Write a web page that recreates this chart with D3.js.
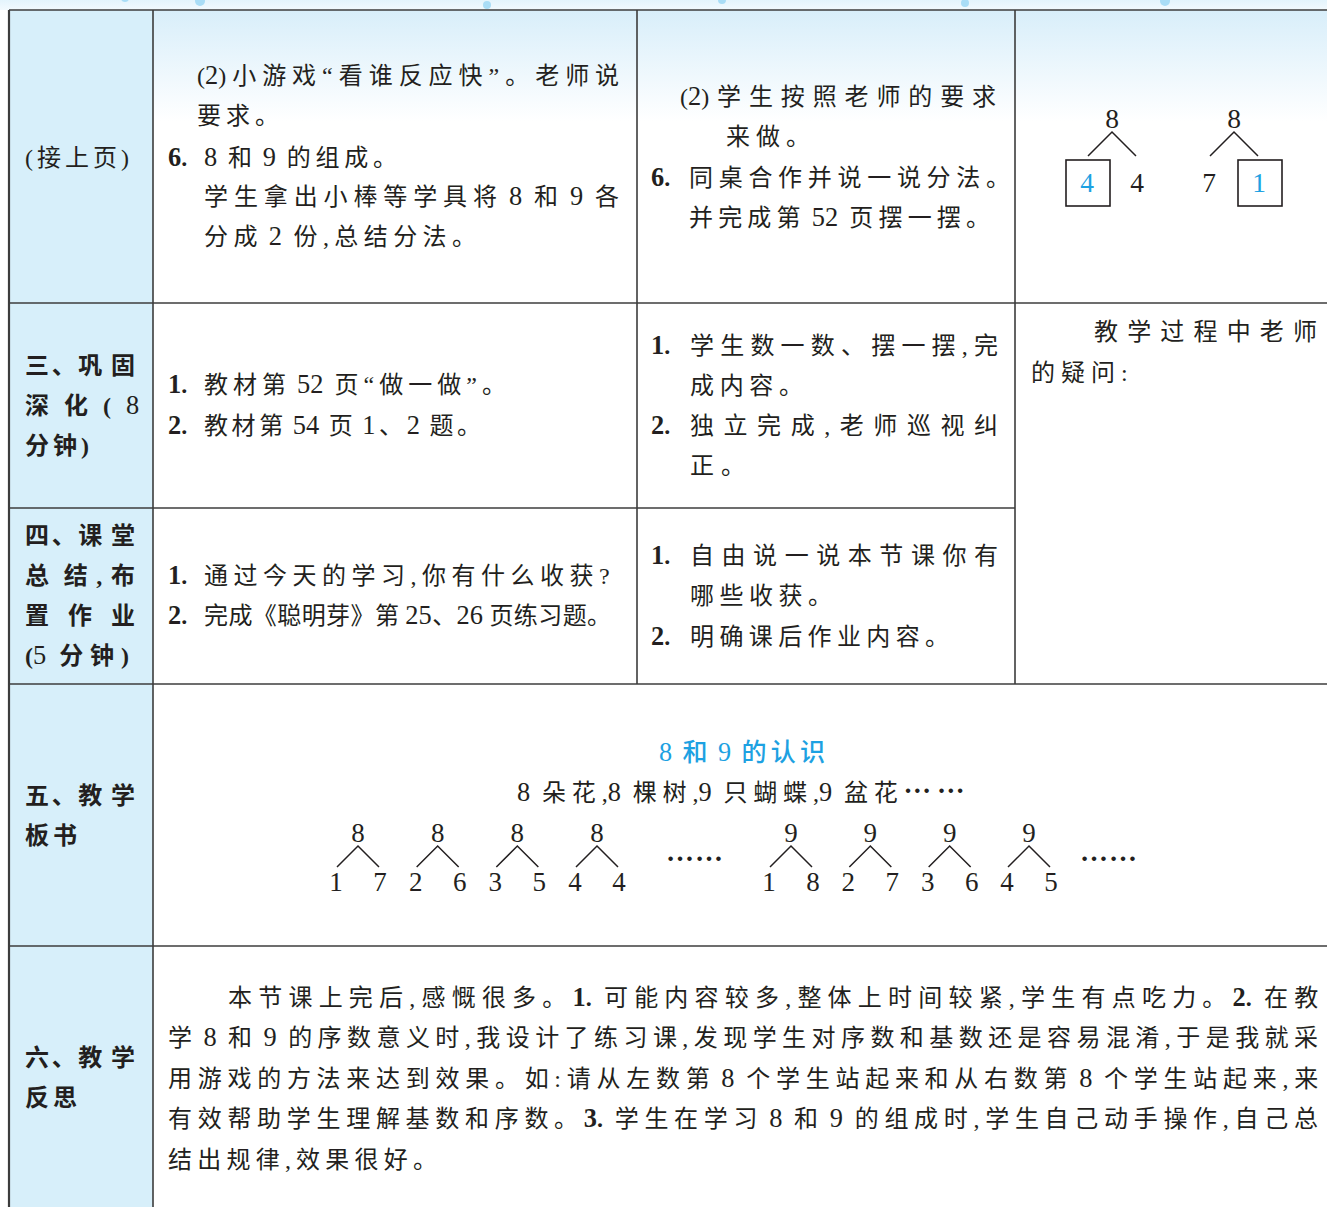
<!DOCTYPE html>
<html><head><meta charset="utf-8">
<script src="https://cdn.jsdelivr.net/npm/d3@7"></script>
<style>body{margin:0;background:#fff}svg{display:block}</style>
</head><body><svg id="c" width="1327" height="1207"></svg>
<script>
// ---------- data ----------
const stageLabels = [["(接上页)"],["三、巩 固","深 化 ( 8","分钟)"],["四、课 堂","总 结,布","置 作 业","(5 分钟)"],["五、教 学","板书"],["六、教 学","反思"]];
const teacherRow1 = ["(2)小游戏“看谁反应快”。老师说","要求。","*6.* 8 和 9 的组成。","学生拿出小棒等学具将 8 和 9 各","分成 2 份,总结分法。"];
const studentRow1 = ["(2)学生按照老师的要求","来做。","*6.* 同桌合作并说一说分法。","并完成第 52 页摆一摆。"];
const teacherRow2 = ["*1.* 教材第 52 页“做一做”。","*2.* 教材第 54 页 1、2 题。"];
const studentRow2 = ["*1.* 学生数一数、摆一摆,完","成内容。","*2.* 独立完成,老师巡视纠","正。"];
const noteText = ["教学过程中老师","的疑问:"];
const teacherRow3 = ["*1.* 通过今天的学习,你有什么收获?","*2.* 完成《聪明芽》第 25、26 页练习题。"];
const studentRow3 = ["*1.* 自由说一说本节课你有","哪些收获。","*2.* 明确课后作业内容。"];
const boardTitle = "8 和 9 的认识";
const boardSubtitle = "8 朵花,8 棵树,9 只蝴蝶,9 盆花……";
const boardEllipsis = "……";
const exampleTotals = [8, 8];
const exampleParts = [[4, 4], [7, 1]];
const exampleBoxed = [0, 1];
const trees8 = [[1,7],[2,6],[3,5],[4,4]];
const trees9 = [[1,8],[2,7],[3,6],[4,5]];
const reflection = [
  "本节课上完后,感慨很多。*1.* 可能内容较多,整体上时间较紧,学生有点吃力。*2.* 在教",
  "学 8 和 9 的序数意义时,我设计了练习课,发现学生对序数和基数还是容易混淆,于是我就采",
  "用游戏的方法来达到效果。如:请从左数第 8 个学生站起来和从右数第 8 个学生站起来,来",
  "有效帮助学生理解基数和序数。*3.* 学生在学习 8 和 9 的组成时,学生自己动手操作,自己总",
  "结出规律,效果很好。"
];

// ---------- setup ----------
const W = 1327, H = 1207;
const INK = "#231f20", BLUE = "#1da1e2", LINE = "#3c3c3c";
const FONT = "'Liberation Serif','Noto Sans CJK SC',serif";
const svg = d3.select("#c");
const defs = svg.append("defs");
const g1 = defs.append("linearGradient").attr("id","topg").attr("x1",0).attr("y1",0).attr("x2",0).attr("y2",1);
g1.append("stop").attr("offset","0%").attr("stop-color","#d8eefa");
g1.append("stop").attr("offset","38%").attr("stop-color","#ffffff");
const g2 = defs.append("linearGradient").attr("id","strip").attr("x1",0).attr("y1",0).attr("x2",0).attr("y2",1);
g2.append("stop").attr("offset","0%").attr("stop-color","#e4f4fc");
g2.append("stop").attr("offset","100%").attr("stop-color","#f3fafe");

const colX = d3.scaleOrdinal().domain([0,1,2,3,4]).range([9,153,637,1015,1340]);
const rowY = d3.scaleOrdinal().domain([0,1,2,3,4,5]).range([10,303,508,684,946,1230]);

// backgrounds
svg.append("rect").attr("x",0).attr("y",0).attr("width",W).attr("height",10).attr("fill","url(#strip)");
svg.selectAll("circle.dot").data([[200,1,5],[487,5,4],[722,0,4],[965,3,4],[1165,1,5],[125,-2,4]]).join("circle")
  .attr("cx",d=>d[0]).attr("cy",d=>d[1]).attr("r",d=>d[2]).attr("fill","#a9ddf6");
svg.append("rect").attr("x",colX(1)).attr("y",rowY(0)).attr("width",W-colX(1)).attr("height",rowY(1)-rowY(0)).attr("fill","url(#topg)");
svg.append("rect").attr("x",colX(0)).attr("y",rowY(0)).attr("width",colX(1)-colX(0)).attr("height",H).attr("fill","#d7effa");

// grid lines
const gl = svg.append("g").attr("stroke",LINE).attr("stroke-width",1.6);
const hLines = [[0,0,4],[1,0,4],[2,0,3],[3,0,4],[4,0,4]];
hLines.forEach(([r,c0,c1])=>gl.append("line").attr("x1",colX(c0)).attr("x2",colX(c1)).attr("y1",rowY(r)).attr("y2",rowY(r)));
const vLines = [[0,0,5],[1,0,5],[2,0,3],[3,0,3]];
vLines.forEach(([c,r0,r1])=>gl.append("line").attr("x1",colX(c)).attr("x2",colX(c)).attr("y1",rowY(r0)).attr("y2",rowY(r1)).attr("stroke-width",c===0?2.2:1.6));

// ---------- text helper ----------
// "*...*" marks bold; o.last = x where the last character should start (justify)
function addLine(g, x, y, s, o = {}) {
  const size = o.size || 24;
  const chars = []; let bold = false;
  for (const ch of s) { if (ch === "*") { bold = !bold; continue; } chars.push({ch, bold}); }
  const kind = c => /\d/.test(c) ? "d" : (c === "…" ? "e" : "t");
  const runs = [];
  chars.forEach((c, i) => {
    const k = kind(c.ch), prev = runs[runs.length-1];
    if (prev && prev.k === k && prev.bold === c.bold) { prev.text += c.ch; prev.idx.push(i); }
    else runs.push({k, bold: c.bold, text: c.ch, idx: [i]});
  });
  const t = g.append("text").attr("x", x).attr("y", y + 0.38*size)
    .attr("font-family", o.family || FONT).attr("font-size", size)
    .attr("fill", o.color || INK).attr("font-weight", o.weight || 400)
    .style("white-space","pre");
  runs.forEach(r => {
    const ts = t.append("tspan").text(r.text);
    if (r.k === "d") {
      ts.attr("font-size", size*(o.digitScale||1.1));
      if ((o.weight||400) >= 600 && !r.bold) ts.attr("font-weight", 400);
    }
    if (r.k === "e") ts.attr("font-family","'Liberation Serif'").attr("font-weight",700).attr("font-size", size*1.15).attr("dy", -0.33*size);
    if (r.bold) ts.attr("font-weight", 700);
    r.ts = ts;
  });
  const isAscii = c => c.charCodeAt(0) < 128 && c !== " ";
  const gap = chars.map((c,i) => i > 0 && chars[i-1].ch !== " " && !(isAscii(chars[i-1].ch) && isAscii(c.ch)));
  let ls = o.ls ?? 4;
  if (o.last != null && chars.length > 1) {
    const s0 = t.node().getStartPositionOfChar(chars.length-1).x;
    const n = gap.filter(Boolean).length;
    ls = n ? (o.last - s0) / n : 0;
  }
  runs.forEach(r => r.ts.attr("dx", r.idx.map(i => gap[i] ? ls.toFixed(2) : 0).join(" ")));
  return t;
}
function addCell(g, lines, layout, numX, textX) {
  lines.forEach((s, i) => {
    const [x, y, last] = layout[i];
    const m = s.match(/^\*(\d+\.)\*\s*(.*)$/);
    if (m) {
      addLine(g, numX, y, "*" + m[1] + "*", {ls:0});
      addLine(g, textX, y, m[2], last ? {last} : {});
    } else addLine(g, x, y, s, last ? {last} : {});
  });
}

const T = svg.append("g");

// stage labels (left column)
const labelLayout = [
  [[25,157,121]],
  [[25,365,111],[25,405,126],[25,445,81]],
  [[25,535,111],[25,575,111],[25,615,111],[25,655,121]],
  [[25,795,111],[25,835]],
  [[25,1057,111],[25,1097]]
];
stageLabels.forEach((lines, r) => lines.forEach((s, i) => {
  const [x,y,last] = labelLayout[r][i];
  addLine(T, x, y, s, Object.assign({weight: r===0?400:700, digitScale:1.1}, last?{last}:{ls:4}));
}));

// row 1
addCell(T, teacherRow1, [[197,75,595],[197,115,255],[168,157,373],[204,196,595],[204,236,452]], 168, 204);
addCell(T, studentRow1, [[680,96,972],[726,136,786],[651,177,986],[689,217,966]], 651, 689);
const exX = d3.scalePoint().domain(d3.range(exampleTotals.length)).range([1112,1234]);
const EX = T.append("g");
exampleTotals.forEach((tot, i) => {
  const cx = exX(i);
  addLine(EX, cx, 118, String(tot), {ls:0, size:25, digitScale:1.1}).attr("text-anchor","middle");
  const leafX = [cx-25, cx+25];
  EX.append("polyline").attr("points", `${cx-24},156 ${cx},132 ${cx+24},156`).attr("fill","none").attr("stroke",INK).attr("stroke-width",1.5);
  exampleParts[i].forEach((p, j) => {
    const boxed = exampleBoxed[i] === j;
    if (boxed) EX.append("rect").attr("x", leafX[j]-21).attr("y",160).attr("width",44).attr("height",46).attr("fill","#fff").attr("stroke",INK).attr("stroke-width",1.6);
    addLine(EX, leafX[j], 182, String(p), {ls:0, size:25, digitScale:1.1, color: boxed?BLUE:INK}).attr("text-anchor","middle");
  });
});

// row 2
addCell(T, teacherRow2, [[168,384,482],[168,425,457]], 168, 204);
addCell(T, studentRow2, [[651,345,974],[690,385,779],[651,425,974],[690,465,721]], 651, 690);
addLine(T, 1094, 331, noteText[0], {last:1293});
addLine(T, 1031, 372, noteText[1], {last:1121});

// row 3
addCell(T, teacherRow3, [[168,575,599],[168,615,587]], 168, 204);
addCell(T, studentRow3, [[651,555,974],[690,595,808],[651,636,925]], 651, 690);

// row 4 board
addLine(T, 659, 751, boardTitle, {color:BLUE, weight:500, size:25, digitScale:1.05, last:800});
addLine(T, 517, 792, boardSubtitle, {last:937});
const B = T.append("g");
function drawTrees(data, total, x0, x1) {
  const sx = d3.scalePoint().domain(d3.range(data.length)).range([x0, x1]);
  data.forEach((parts, i) => {
    const cx = sx(i);
    addLine(B, cx, 832, String(total), {ls:0, size:25, digitScale:1.08}).attr("text-anchor","middle");
    B.append("polyline").attr("points", `${cx-21},867 ${cx},846 ${cx+21},867`).attr("fill","none").attr("stroke",INK).attr("stroke-width",1.5);
    addLine(B, cx-22, 881, String(parts[0]), {ls:0, size:25, digitScale:1.08}).attr("text-anchor","middle");
    addLine(B, cx+22, 881, String(parts[1]), {ls:0, size:25, digitScale:1.08}).attr("text-anchor","middle");
  });
}
drawTrees(trees8, 8, 358, 597);
drawTrees(trees9, 9, 791, 1029);
[666, 1080].forEach(x => {
  B.append("text").attr("x", x).attr("y", 861).attr("font-family","'Liberation Serif'").attr("font-weight",700)
    .attr("font-size",28).attr("fill",INK).attr("letter-spacing",1).text(boardEllipsis);
});

// row 5 reflection
const refLayout = [[228,997,1294],[168,1037,1294],[168,1078,1294],[168,1118,1294],[168,1159,413]];
reflection.forEach((s, i) => {
  const [x,y,last] = refLayout[i];
  addLine(T, x, y, s, {last});
});
</script></body></html>
